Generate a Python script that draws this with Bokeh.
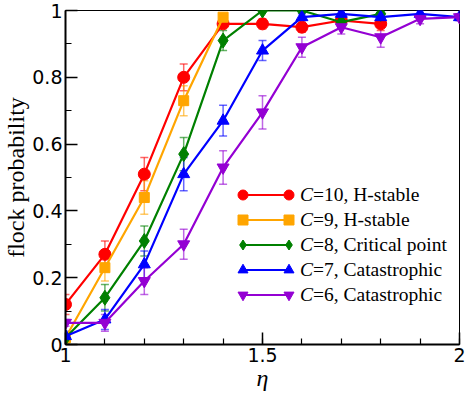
from bokeh.plotting import figure
from bokeh.models import (ColumnDataSource, Whisker, TeeHead, Legend, LegendItem,
                          SingleIntervalTicker, CustomJSTickFormatter)
from bokeh.core.properties import value
from bokeh.embed import file_html
from bokeh.resources import INLINE

# ---------------- data ----------------
eta_c10 = [1.0, 1.1, 1.2, 1.3, 1.4, 1.5, 1.6, 1.7, 1.8]
p_c10 = [0.12, 0.27, 0.51, 0.80, 0.96, 0.96, 0.95, 0.97, 0.96]
e_c10 = [0.03, 0.04, 0.05, 0.04, 0.01, 0.015, 0.015, 0.015, 0.02]

eta_c9 = [1.0, 1.1, 1.2, 1.3, 1.4]
p_c9 = [0.02, 0.23, 0.44, 0.73, 0.98]
e_c9 = [0.015, 0.04, 0.05, 0.045, 0.01]

eta_c8 = [1.0, 1.1, 1.2, 1.3, 1.4, 1.5, 1.6, 1.7, 1.8]
p_c8 = [0.02, 0.14, 0.31, 0.57, 0.91, 1.0, 1.0, 0.965, 0.99]
e_c8 = [0.015, 0.04, 0.045, 0.05, 0.03, 0.0, 0.0, 0.01, 0.01]

eta_c7 = [1.0, 1.1, 1.2, 1.3, 1.4, 1.5, 1.6, 1.7, 1.8, 1.9, 2.0]
p_c7 = [0.025, 0.075, 0.24, 0.51, 0.67, 0.88, 0.98, 0.99, 0.98, 0.99, 0.98]
e_c7 = [0.015, 0.03, 0.04, 0.05, 0.046, 0.03, 0.01, 0.01, 0.01, 0.01, 0.01]

eta_c6 = [1.0, 1.1, 1.2, 1.3, 1.4, 1.5, 1.6, 1.7, 1.8, 1.9, 2.0]
p_c6 = [0.065, 0.065, 0.19, 0.30, 0.53, 0.695, 0.89, 0.95, 0.92, 0.975, 0.98]
e_c6 = [0.01, 0.025, 0.04, 0.045, 0.05, 0.05, 0.03, 0.02, 0.03, 0.015, 0.01]

c_values = ["10", "9", "8", "7", "6"]
descriptions = ["H-stable", "H-stable", "Critical point", "Catastrophic", "Catastrophic"]
series_eta = [eta_c10, eta_c9, eta_c8, eta_c7, eta_c6]
series_p = [p_c10, p_c9, p_c8, p_c7, p_c6]
series_err = [e_c10, e_c9, e_c8, e_c7, e_c6]

colors = ["#ff0000", "#ffa500", "#008000", "#0000ff", "#9400d3"]
markers = ["circle", "square", "diamond", "triangle", "inverted_triangle"]
msizes = [12, 10, 15, 12, 12]

x_tick_interval = 0.5
y_tick_interval = 0.2

# ---------------- figure ----------------
p = figure(width=466, height=396, output_backend="svg", toolbar_location=None,
           x_range=(1, 2), y_range=(0, 1),
           min_border_left=63, min_border_right=7, min_border_top=10, min_border_bottom=52)
p.xgrid.grid_line_color = None
p.ygrid.grid_line_color = None
p.outline_line_color = "black"
p.outline_line_width = 1
p.background_fill_color = "white"

p.xaxis.ticker = SingleIntervalTicker(interval=x_tick_interval, num_minor_ticks=5)
p.yaxis.ticker = SingleIntervalTicker(interval=y_tick_interval, num_minor_ticks=2)
fmt = CustomJSTickFormatter(code="return parseFloat(tick.toFixed(3)).toString();")
p.xaxis.formatter = fmt
p.yaxis.formatter = fmt

for ax in (p.xaxis[0], p.yaxis[0]):
    ax.axis_line_width = 2
    ax.axis_line_color = "black"
    ax.major_tick_in = 12
    ax.major_tick_out = 0
    ax.minor_tick_in = 6
    ax.minor_tick_out = 0
    ax.major_tick_line_width = 1.5
    ax.minor_tick_line_width = 1.2
    ax.major_tick_line_color = "black"
    ax.minor_tick_line_color = "black"
    ax.major_label_text_font = "DejaVu Sans"
    ax.major_label_text_font_size = "19px"
    ax.major_label_text_color = "black"
    ax.axis_label_text_font = "Liberation Serif"
    ax.axis_label_text_color = "black"

p.xaxis.axis_label = "η"
p.xaxis.axis_label_text_font_style = "italic"
p.xaxis.axis_label_text_font_size = "24px"
p.xaxis.major_label_standoff = 3
p.xaxis.axis_label_standoff = 0

p.yaxis.axis_label = "flock probability"
p.yaxis.axis_label_text_font_style = "normal"
p.yaxis.axis_label_text_font_size = "24px"
p.yaxis.major_label_standoff = 3
p.yaxis.axis_label_standoff = 0

line_rs, mark_rs = [], []
for eta, prob, err, col, mk, ms in zip(series_eta, series_p, series_err, colors, markers, msizes):
    src = ColumnDataSource(dict(x=eta, y=prob,
                                upper=[a + b for a, b in zip(prob, err)],
                                lower=[a - b for a, b in zip(prob, err)]))
    w = Whisker(base="x", upper="upper", lower="lower", source=src, dimension="height",
                line_color=col, line_alpha=0.6, line_width=1.5,
                upper_head=TeeHead(size=8, line_color=col, line_alpha=0.6, line_width=1.5),
                lower_head=TeeHead(size=8, line_color=col, line_alpha=0.6, line_width=1.5))
    p.add_layout(w)
    lr = p.line("x", "y", source=src, line_color=col, line_width=2.2)
    mr = p.scatter("x", "y", source=src, marker=mk, size=ms, fill_color=col, line_color=col)
    line_rs.append(lr)
    mark_rs.append(mr)

# ---------------- legend (built from Bokeh legends) ----------------
LX, LY = 177, 37
GW, GH = 46, 25
STANDOFF = 12
C_W = 13
common = dict(glyph_height=GH, label_height=GH, spacing=0, padding=0, margin=0,
              border_line_alpha=0, background_fill_alpha=0,
              label_text_font="Liberation Serif", label_text_font_size="19.5px",
              label_text_color="black")

leg_line = Legend(items=[LegendItem(label=value("C"), renderers=[lr]) for lr in line_rs],
                  location=(LX, LY), glyph_width=GW, label_standoff=STANDOFF,
                  label_text_font_style="italic", **common)
leg_ml = Legend(items=[LegendItem(label=value(""), renderers=[mr]) for mr in mark_rs],
                location=(LX - GH // 2, LY), glyph_width=GH, label_standoff=0, **common)
leg_mr = Legend(items=[LegendItem(label=value(""), renderers=[mr]) for mr in mark_rs],
                location=(LX + GW - GH // 2, LY), glyph_width=GH, label_standoff=0, **common)
leg_txt = Legend(items=[LegendItem(label=value("=%s, %s" % (c, d)), renderers=[lr])
                        for c, d, lr in zip(c_values, descriptions, line_rs)],
                 location=(LX + GW + STANDOFF + C_W, LY), glyph_width=0, label_standoff=0,
                 **common)
for lg in (leg_line, leg_ml, leg_mr, leg_txt):
    p.add_layout(lg, "center")

open("out.html", "w").write(file_html(p, INLINE))
